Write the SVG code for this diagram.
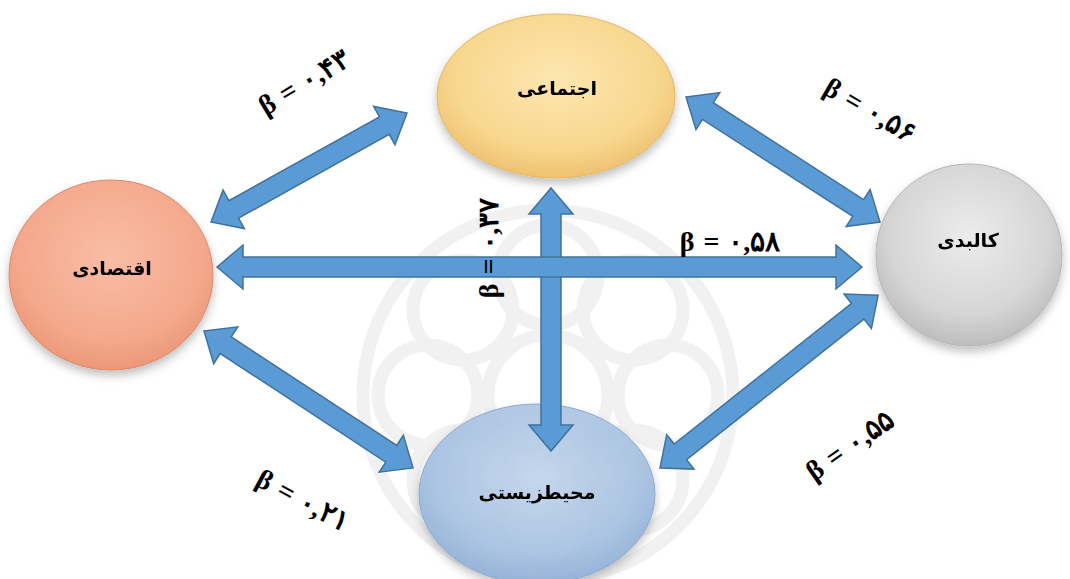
<svg xmlns="http://www.w3.org/2000/svg" width="1070" height="579" viewBox="0 0 1070 579">
<defs>
<radialGradient id="gY" cx="50%" cy="40%" r="60%"><stop offset="0" stop-color="#fde6b0"/><stop offset="0.7" stop-color="#f8d890"/><stop offset="1" stop-color="#eec170"/></radialGradient>
<radialGradient id="gS" cx="50%" cy="40%" r="60%"><stop offset="0" stop-color="#f9bda5"/><stop offset="0.75" stop-color="#f4a88c"/><stop offset="1" stop-color="#ec9878"/></radialGradient>
<radialGradient id="gG" cx="50%" cy="40%" r="60%"><stop offset="0" stop-color="#ececec"/><stop offset="0.7" stop-color="#d6d6d6"/><stop offset="1" stop-color="#bdbdbd"/></radialGradient>
<radialGradient id="gB" cx="50%" cy="40%" r="60%"><stop offset="0" stop-color="#c3d6ee"/><stop offset="0.7" stop-color="#a9c3e3"/><stop offset="1" stop-color="#8fb0d8"/></radialGradient>
<filter id="sh" x="-20%" y="-20%" width="140%" height="150%"><feDropShadow dx="0" dy="5" stdDeviation="5" flood-color="#000" flood-opacity="0.25"/></filter>
</defs>
<style>
.lbl{font-family:"DejaVu Sans",sans-serif;font-weight:bold;font-size:19px;fill:#000;text-anchor:middle;dominant-baseline:central}
.beta{font-family:"Liberation Serif","DejaVu Serif",serif;font-weight:bold;font-size:28px;letter-spacing:1px;fill:#000;text-anchor:middle;dominant-baseline:central;direction:ltr}
.arr{fill:#5b9bd5;stroke:#41719c;stroke-width:1.5;stroke-linejoin:miter}
.wm{fill:none;stroke:#f1f1f1;stroke-width:13}
</style>
<rect width="1070" height="579" fill="#fff"/>
<g id="watermark">
<circle class="wm" cx="548" cy="395" r="60"/>
<g transform="translate(548,395)">
<circle class="wm" cx="0" cy="-120" r="50"/><circle class="wm" cx="0" cy="120" r="50"/>
<circle class="wm" cx="120" cy="0" r="50"/><circle class="wm" cx="-120" cy="0" r="50"/>
<circle class="wm" cx="85" cy="-85" r="50"/><circle class="wm" cx="-85" cy="-85" r="50"/>
<circle class="wm" cx="85" cy="85" r="50"/><circle class="wm" cx="-85" cy="85" r="50"/>
<circle class="wm" cx="0" cy="0" r="185"/>
</g>
</g>
<g id="node-social" filter="url(#sh)"><ellipse cx="556" cy="96" rx="119" ry="82" fill="url(#gY)" stroke="#e3b866" stroke-width="1"/><text class="lbl" x="557" y="88">اجتماعی</text></g>
<g id="node-economic" filter="url(#sh)"><ellipse cx="111" cy="275" rx="102" ry="95" fill="url(#gS)" stroke="#d88a6c" stroke-width="1"/><text class="lbl" x="112" y="268">اقتصادی</text></g>
<g id="node-physical" filter="url(#sh)"><ellipse cx="969" cy="255" rx="93" ry="91" fill="url(#gG)" stroke="#b5b5b5" stroke-width="1"/><text class="lbl" x="968" y="240">کالبدی</text></g>
<g id="node-environment" filter="url(#sh)"><ellipse cx="537" cy="494" rx="118" ry="90" fill="url(#gB)" fill-opacity="0.9" stroke="#8aa9cf" stroke-width="1"/><text class="lbl" x="537" y="492">محیطزیستی</text></g>
<g id="connectors">
<polygon class="arr" transform="translate(211,222) rotate(-29.08)" points="0,0 26,-22 26,-10 198.3,-10 198.3,-22 224.3,0 198.3,22 198.3,10 26,10 26,22"/>
<polygon class="arr" transform="translate(204,331) rotate(33.24)" points="0,0 26,-22 26,-10 223.9,-10 223.9,-22 249.9,0 223.9,22 223.9,10 26,10 26,22"/>
<polygon class="arr" transform="translate(686,97) rotate(32.8)" points="0,0 26,-22 26,-10 204.8,-10 204.8,-22 230.8,0 204.8,22 204.8,10 26,10 26,22"/>
<polygon class="arr" transform="translate(660,468) rotate(-38.4)" points="0,0 26,-22 26,-10 252.3,-10 252.3,-22 278.3,0 252.3,22 252.3,10 26,10 26,22"/>
<polygon class="arr" transform="translate(551,188) rotate(90)" points="0,0 26,-22 26,-10 237,-10 237,-22 263,0 237,22 237,10 26,10 26,22"/>
<polygon class="arr" transform="translate(217,267)" points="0,0 26,-22 26,-10 619,-10 619,-22 645,0 619,22 619,10 26,10 26,22"/>
</g>
<g id="labels">
<text class="beta" transform="translate(304,82) rotate(-31)">β = ۰,۴۳</text>
<text class="beta" transform="translate(870,110) rotate(30)">β = ۰,۵۶</text>
<text class="beta" transform="translate(730,241)">β = ۰,۵۸</text>
<text class="beta" transform="translate(488,248) rotate(-90)">β = ۰,۳۷</text>
<text class="beta" transform="translate(303,500) rotate(28)">β = ۰,۲۱</text>
<text class="beta" transform="translate(850,445) rotate(-35)">β = ۰,۵۵</text>
</g>
</svg>
